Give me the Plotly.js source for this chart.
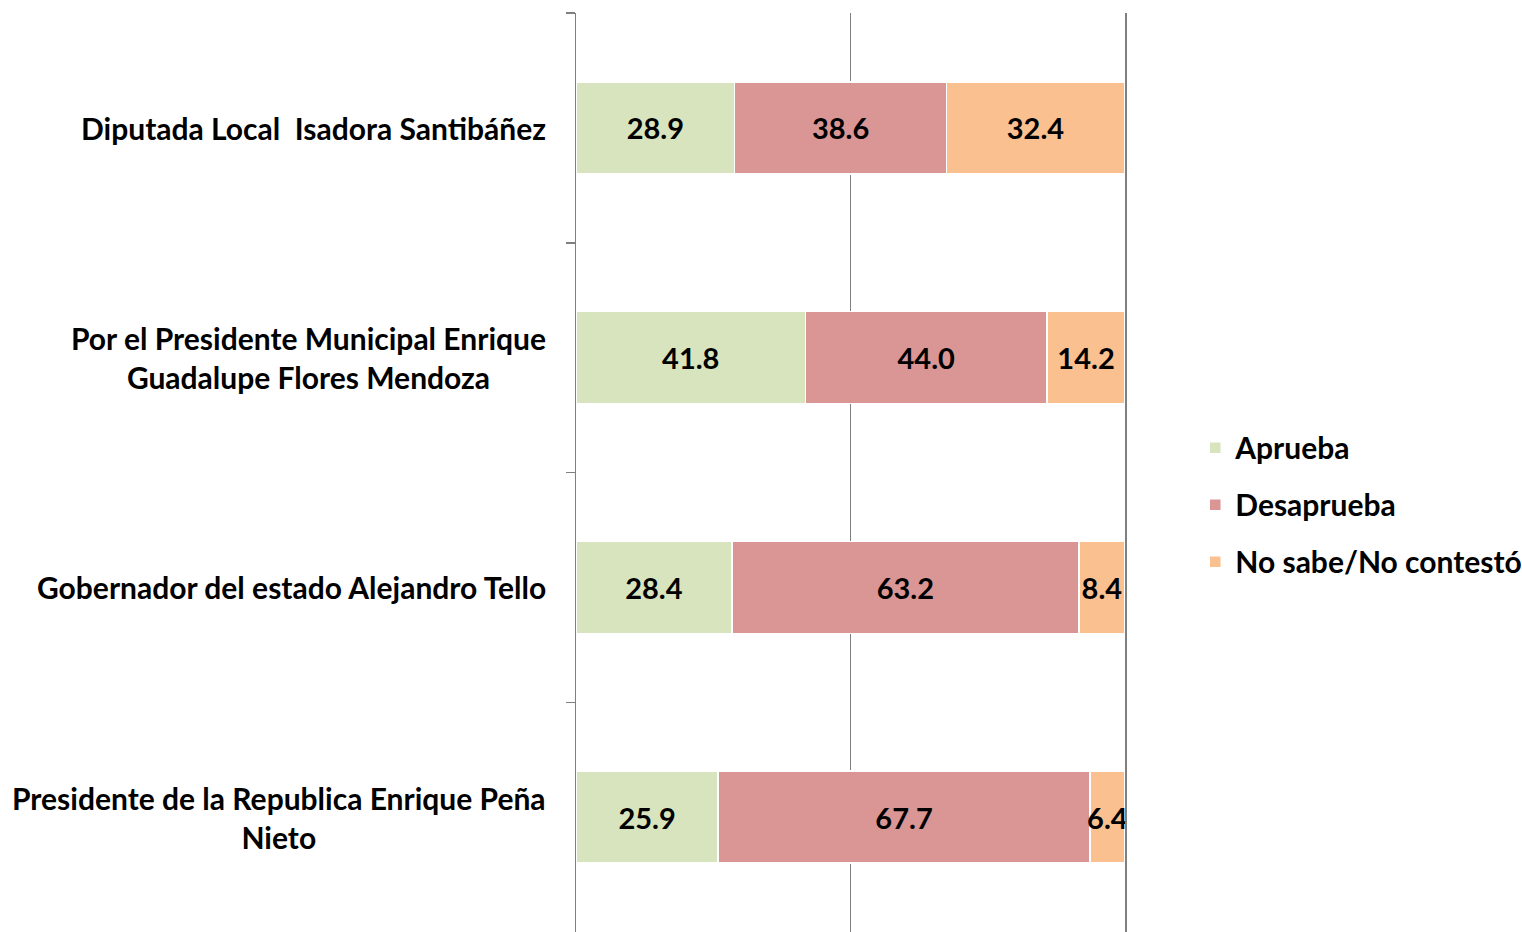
<!DOCTYPE html>
<html>
<head>
<meta charset="utf-8">
<script src="https://cdn.plot.ly/plotly-3.0.1.min.js"></script>
<style>
  html, body { margin: 0; padding: 0; background: #fff; }
  #chart { width: 1522px; height: 932px; }
</style>
</head>
<body>
<div id="chart"></div>
<script>
// Data
const categories = [
    'Diputada Local  Isadora Santibáñez',
    'Por el Presidente Municipal Enrique<br>Guadalupe Flores Mendoza',
    'Gobernador del estado Alejandro Tello',
    'Presidente de la Republica Enrique Peña<br>Nieto'
];
const aprueba = [28.9, 41.8, 28.4, 25.9];
const desaprueba = [38.6, 44.0, 63.2, 67.7];
const noSabe = [32.4, 14.2, 8.4, 6.4];

const seriesNames = ['Aprueba', 'Desaprueba', 'No sabe/No contestó'];
const colors = ['#D7E4BD', '#D99694', '#FAC090'];

const font = 'Lato, "Open Sans", sans-serif';
const fsize = 30;

const traces = [aprueba, desaprueba, noSabe].map((vals, i) => ({
    type: 'bar',
    orientation: 'h',
    name: seriesNames[i],
    legendgroup: 'g' + i,
    y: categories,
    x: vals,
    marker: { color: colors[i], line: { color: '#ffffff', width: 1.5 } },
    text: vals.map(v => v.toFixed(1)),
    textposition: 'inside',
    insidetextanchor: 'middle',
    textangle: 0,
    constraintext: 'none',
    textfont: { family: font, size: 29, color: '#000', weight: 'bold' },
    hoverinfo: 'x+name'
}));

// category labels as annotations so two-line labels stay centred
const labels = categories.map(c => ({
    xref: 'paper', yref: 'y',
    x: 0, y: c,
    xanchor: 'right', yanchor: 'middle',
    xshift: -28,
    align: 'center',
    text: c,
    showarrow: false,
    font: { family: font, size: fsize, color: '#000', weight: 'bold' }
}));

const layout = {
    width: 1522,
    height: 932,
    margin: { l: 576, r: 397, t: 13, b: 0, autoexpand: false },
    barmode: 'stack',
    bargap: 0.6,
    paper_bgcolor: '#fff',
    plot_bgcolor: '#fff',
    font: { family: font, color: '#000' },
    xaxis: {
        range: [0, 100],
        dtick: 50,
        showticklabels: false,
        showgrid: true,
        gridcolor: '#7f7f7f',
        gridwidth: 1.5,
        zeroline: false,
        showline: false,
        fixedrange: true
    },
    yaxis: {
        type: 'category',
        autorange: false,
        range: [3.5, -0.5],
        showticklabels: false,
        showgrid: false,
        showline: true,
        mirror: true,
        linecolor: '#7f7f7f',
        linewidth: 1.5,
        ticks: 'outside',
        tickson: 'boundaries',
        ticklen: 9,
        tickcolor: '#7f7f7f',
        tickwidth: 1.5,
        zeroline: false,
        fixedrange: true
    },
    showlegend: true,
    legend: {
        x: 1.128,
        xanchor: 'left',
        y: 0.465,
        yanchor: 'middle',
        traceorder: 'grouped',
        tracegroupgap: 15,
        itemclick: false,
        font: { family: font, size: fsize, color: '#000', weight: 'bold' }
    },
    annotations: labels
};

Plotly.newPlot('chart', traces, layout, { displayModeBar: false, staticPlot: true });
</script>
</body>
</html>
